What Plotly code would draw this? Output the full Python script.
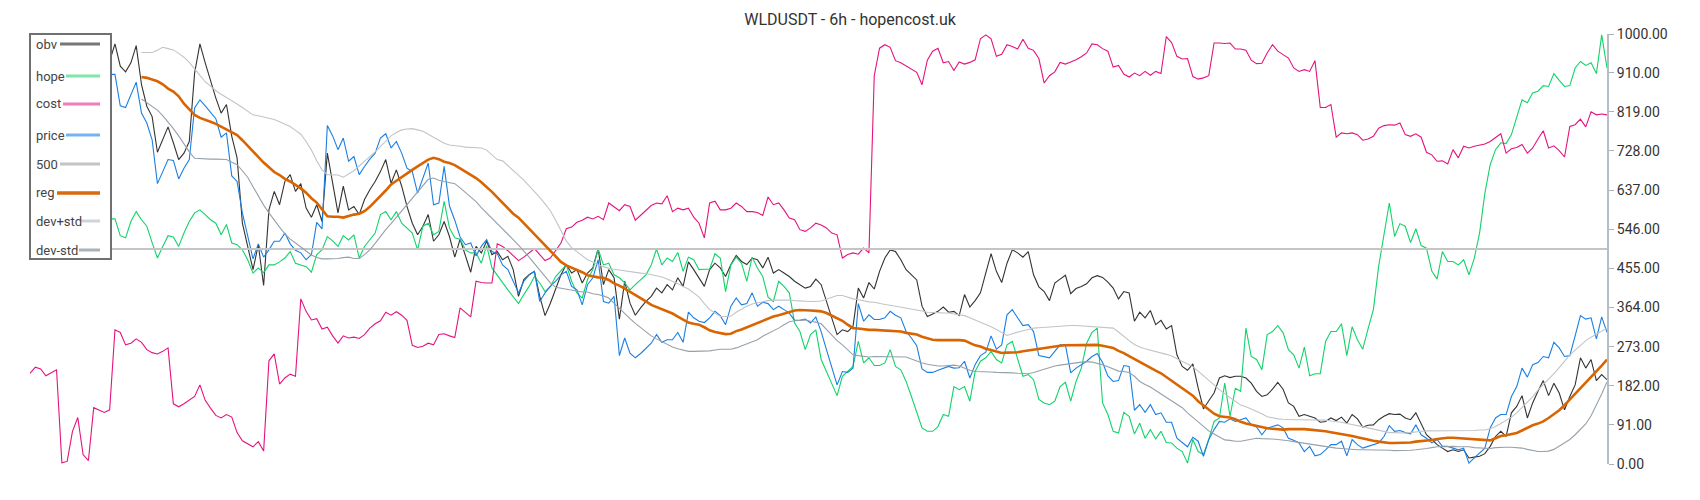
import plotly.graph_objects as go

title = "WLDUSDT - 6h - hopencost.uk"
level = 500
tick_vals = [0, 91, 182, 273, 364, 455, 546, 637, 728, 819, 910, 1000]
tick_text = [f"{v:.2f}" for v in tick_vals]
warmup = 21  # reg / bands start after the rolling window

obv = [960, 940, 975, 930, 905, 950, 985, 920, 890, 940, 910, 960, 925, 900, 950,
       937, 977, 925, 912, 933, 973, 882, 832, 808, 725,
       754, 784, 747, 708, 723, 750, 909, 977, 933, 890,
       851, 816, 836, 762, 712, 560, 506, 452, 510, 415,
       591, 634, 603, 657, 673, 634, 652, 595, 574, 603,
       564, 723, 653, 584, 646, 591, 599, 580, 615, 638,
       657, 680, 708, 653, 684, 646, 599, 560,
       533, 553, 580, 518, 533, 564, 529, 481, 523, 483,
       446, 506, 491, 518, 487, 494, 475, 483, 452, 390,
       429, 440, 448, 390, 345, 374, 405, 440, 464, 444,
       452, 421, 444, 456, 501, 417, 452, 433, 337, 425,
       374, 346, 363, 378, 390, 409, 398, 417, 405, 433,
       413, 470, 452, 433, 413, 452, 467, 456, 436, 464,
       485, 471, 464, 479, 475, 456, 481, 444, 452, 444,
       436, 425, 417, 409, 413, 430, 417, 378, 336, 301,
       312, 308, 320, 409,
       386, 422, 407, 448, 479, 498, 494, 475, 452, 440,
       428, 367, 343, 349, 355, 365, 353, 355, 345, 394,
       365, 380, 398, 444, 489, 448, 422, 467, 498, 491,
       481, 494, 440, 412, 401, 380, 421, 430, 439, 396,
       408, 413, 419, 433, 438, 434, 423, 409, 384, 401,
       398, 332, 353, 340, 357, 324, 334, 314, 322, 254,
       227, 218, 233, 177, 128, 147, 165, 200, 205, 201,
       204, 204, 200, 188, 169, 157, 161, 174, 190, 174,
       142, 134, 111, 115, 111, 107, 97, 99, 107, 101,
       109, 95, 115, 105, 86, 90, 91, 103, 111, 117,
       115, 116, 107, 103, 119, 95, 68, 57, 45, 37,
       29, 33, 29, 33, 14, 16, 18, 24, 41, 64,
       76, 64, 119, 134, 159, 107, 142, 169, 194, 159,
       188, 165, 126, 157, 184, 247, 223, 243, 194, 208, 196]

hope = [585, 570, 600, 590, 560, 575, 610, 595, 565, 580, 600, 575, 555, 590, 570,
        570, 570, 531, 526, 564, 587, 568, 553, 515, 479,
        506, 531, 528, 506, 537, 564, 584, 591, 580, 568,
        560, 533, 557, 514, 510, 498, 475, 444, 456, 445,
        463, 463, 470, 479, 494, 467, 463, 459, 446, 487,
        498, 529, 519, 506, 531, 521, 533, 479, 506, 521,
        537, 580, 587, 568, 587, 560, 549, 537, 498, 553,
        560, 533, 541, 611, 549, 526, 523, 498, 491, 491,
        467, 508, 456, 438, 422, 405, 389, 373, 394, 413,
        436, 421, 401, 413, 436, 450, 463, 425, 398, 386,
        429, 452, 500, 463, 467, 440, 433, 421, 405, 417,
        429, 440, 463, 500, 463, 479, 471, 492, 448, 481,
        475, 452, 453, 453, 489, 479, 401, 463, 481, 467,
        425, 481, 456, 436, 388, 378, 425, 413, 398, 328,
        308, 266, 301, 312, 243, 215, 188, 159, 204, 215, 227, 285,
        235, 247, 229, 229, 235, 266, 227, 219, 192, 157,
        119, 84, 76, 76, 87, 115, 111, 180, 173, 180,
        146, 215, 239, 247, 262, 243, 235, 277, 285, 243,
        204, 208, 196, 150, 142, 138, 146, 180, 190, 146,
        192, 223, 281, 306, 316, 142, 115, 76, 72, 120,
        111, 70, 95, 60, 80, 58, 76, 50, 49, 37,
        29, 2, 57, 29, 22, 57, 99, 107, 188, 111,
        176, 169, 316, 250, 243, 219, 301, 308, 322, 305,
        266, 254, 223, 272, 205, 210, 210, 285, 308, 308,
        326, 252, 319, 289, 267, 314, 359, 460, 529, 607,
        529, 559, 553, 515, 547, 508, 502, 449, 430, 494,
        471, 471, 463, 475, 440, 478, 537, 630, 696, 731,
        747, 745, 766, 805, 847, 840, 863, 867, 880, 878,
        908, 892, 878, 880, 921, 936, 927, 933, 908, 998, 921]

cost = [211, 225, 221, 205, 212, 219, 3, 6, 76, 108,
        22, 8, 131, 125, 120, 126, 312, 306, 277, 281,
        291, 283, 266, 259, 256, 262, 270, 140, 133, 140,
        148, 157, 184, 148, 130, 113, 107, 115, 109, 73,
        54, 47, 40, 52, 30, 240, 256, 186, 200, 209,
        204, 384, 355, 335, 338, 314, 318, 298, 281, 298,
        293, 295, 292, 301, 316, 326, 333, 353, 346, 354,
        346, 334, 276, 271, 274, 281, 277, 301, 303, 298,
        294, 363, 353, 342, 425, 422, 421, 421, 512, 506,
        496, 484, 473, 481, 491, 501, 487, 473, 479, 497,
        514, 547, 551, 562, 567, 574, 570, 576, 568, 607,
        598, 589, 603, 599, 567, 578, 591, 601, 607, 605,
        624, 587, 595, 591, 595, 574, 560, 526, 607, 611,
        591, 591, 595, 607, 599, 587, 587, 585, 578, 621,
        603, 607, 591, 572, 568, 545, 541, 549, 560, 556,
        549, 537, 533, 479, 487, 491, 488, 502, 491,
        903, 967, 975, 969, 938, 933, 926, 919, 911, 882,
        939, 960, 967, 933, 936, 915, 935, 930, 934, 940,
        989, 998, 989, 948, 953, 975, 971, 965, 988, 967,
        962, 943, 886, 903, 912, 934, 930, 935, 940, 947,
        956, 977, 975, 966, 960, 923, 927, 907, 900, 909,
        903, 913, 904, 913, 908, 994, 980, 948, 942, 943,
        901, 895, 898, 903, 979, 979, 978, 979, 965, 965,
        962, 939, 931, 932, 956, 975, 960, 952, 944, 921,
        913, 917, 913, 938, 829, 829, 836, 760, 770, 768,
        770, 766, 753, 756, 762, 781, 787, 789, 788, 793,
        766, 762, 768, 760, 725, 719, 704, 705, 698, 731,
        712, 739, 735, 739, 741, 744, 750, 758, 768, 723,
        733, 736, 743, 723, 735, 756, 775, 735, 740, 729,
        714, 785, 789, 802, 784, 819, 812, 814, 812]

price = [900, 880, 910, 870, 850, 895, 920, 860, 830, 870, 850, 890, 860, 845, 880,
         906, 906, 833, 829, 859, 888, 816, 793, 754, 652,
         680, 708, 706, 663, 688, 708, 828, 847, 833, 818,
         803, 760, 770, 670, 657, 584, 529, 477, 512, 481,
         498, 518, 518, 537, 512, 497, 491, 475, 487, 562,
         547, 787, 763, 731, 758, 704, 715, 673, 692, 709,
         723, 758, 768, 735, 750, 723, 688, 680, 630, 663,
         700, 603, 607, 692, 600, 567, 528, 510, 514, 484,
         506, 522, 494, 489, 463, 452, 424, 398, 425, 440,
         448, 378, 398, 413, 425, 440, 448, 413, 405, 370,
         417, 433, 475, 378, 374, 390, 252, 293, 258, 247,
         257, 270, 281, 301, 283, 289, 289, 306, 283, 353,
         340, 332, 329, 340, 355, 345, 324, 367, 386, 370,
         373, 398, 367, 376, 373, 359, 367, 359, 351, 334,
         334, 337, 328, 342, 308, 266, 227, 184,
         215, 213, 223, 373, 332, 347, 336, 336, 340, 355,
         346, 340, 308, 293, 275, 221, 213, 213, 218, 223,
         227, 223, 224, 239, 200, 231, 252, 260, 298, 267,
         277, 347, 359, 340, 322, 324, 308, 252, 249, 247,
         262, 277, 277, 212, 223, 231, 239, 250, 257, 236,
         205, 192, 194, 229, 227, 125, 138, 120, 138, 115,
         119, 97, 97, 60, 49, 40, 62, 53, 18, 57,
         80, 99, 97, 105, 99, 103, 107, 91, 86, 68,
         84, 87, 91, 84,
         60, 55, 49, 29, 41, 19, 22, 33, 45, 45,
         53, 19, 57, 45, 37, 41, 45, 49, 64, 89,
         76, 78, 73, 70, 91, 68, 60, 49, 57, 41,
         41, 37, 33, 37, 2, 14, 26, 37, 84, 107,
         115, 115, 157, 180, 223, 202, 231, 236, 250, 247,
         283, 270, 250, 252, 298, 345, 337, 340, 291, 342, 306]

reg = [None] * warmup + [
    900, 898, 894, 890, 883, 873, 866, 855, 838, 824,
    812, 805, 801, 796, 791, 784, 777, 772, 765, 753,
    740, 726, 712, 701, 690, 679, 672, 663, 657, 650,
    641, 631, 618, 608, 591, 576, 575, 575, 573, 577,
    580, 582, 588, 598, 610, 623, 636, 650, 659, 668,
    676, 684, 692, 701, 708, 712, 709, 703, 700, 695,
    688, 681, 673, 665, 655, 645, 633, 620, 607, 595,
    582, 573, 560, 547, 534, 522, 509, 495, 482, 470,
    462, 457, 452, 446, 439, 436, 434, 433, 428, 420,
    415, 408, 401, 393, 386, 378, 370, 365, 360, 355,
    350, 343, 336, 329, 326, 324, 318, 311, 307, 305,
    302, 303, 309, 313, 318, 323, 329, 334, 339, 343,
    346, 350, 353, 357, 358, 358, 357, 356, 355, 351,
    345, 340, 333, 324, 316, 315, 313, 312, 312, 311,
    310, 310, 309, 308, 305, 303, 301, 296, 293, 289,
    288, 288, 289, 289, 288, 287, 282, 276, 273, 268,
    265, 261, 258, 259, 259, 260, 262, 264, 266, 267,
    269, 271, 273, 275, 276, 276, 277, 277, 277, 277,
    277, 275, 272, 270, 263, 258, 251, 244, 236, 229,
    224, 217, 211, 202, 193, 184, 176, 168, 159, 146,
    136, 125, 117, 111, 110, 108, 104, 98, 94, 91,
    89, 86, 83, 82, 81, 80, 81, 81, 82, 81,
    80, 79, 78, 76, 74, 72, 69, 67, 65, 62,
    59, 56, 54, 52, 50, 49, 49, 49, 49, 50,
    52, 53, 55, 56, 58, 60, 61, 61, 60, 59,
    58, 58, 57, 56, 55, 60, 65, 67, 70, 72,
    78, 84, 90, 94, 99, 107, 116, 125, 137, 150,
    162, 175, 188, 202, 216, 229, 243]

dev_plus = [None] * warmup + [
    957, 957, 957, 962, 969, 966, 963, 955, 946, 934,
    920, 904, 889, 878, 868, 860, 853, 845, 837, 829,
    820, 812, 810, 807, 805, 801, 796, 790, 785, 776,
    767, 750, 730, 705, 684, 673, 673, 672, 667, 675,
    682, 693, 703, 715, 726, 739, 752, 763, 771, 777,
    779, 780, 777, 774, 767, 760, 752, 746, 742, 741,
    739, 737, 736, 736, 735, 730, 720, 708, 705, 694,
    682, 672, 660, 647, 634, 620, 605, 589, 567, 541,
    519, 503, 493, 483, 475, 470, 463, 459, 455, 453,
    451, 449, 447, 445, 444, 443, 440, 438, 435, 430,
    425, 419, 413, 407, 398, 388, 373, 359, 351, 343,
    343, 344, 353, 361, 367, 372, 375, 377, 380, 381,
    381, 382, 381, 380, 379, 378, 378, 378, 379, 383,
    388, 392, 392, 388, 384, 382, 379, 377, 376, 373,
    371, 369, 367, 365, 363, 360, 358, 356, 353, 353,
    352, 351, 351, 349, 347, 345, 340, 335, 330, 325,
    319, 313, 305, 299, 303, 307, 310, 313, 316, 317,
    318, 319, 320, 321, 321, 322, 322, 321, 321, 320,
    319, 318, 317, 316, 307, 296, 287, 278, 272, 268,
    265, 262, 259, 255, 251, 245, 239, 233, 226, 216,
    206, 196, 184, 173, 163, 154, 146, 137, 133, 128,
    123, 117, 110, 107, 105, 104, 103, 103, 103, 103,
    103, 103, 103, 102, 100, 99, 97, 94, 92, 89,
    87, 84, 81, 78, 75, 73, 73, 72, 72, 73,
    75, 76, 77, 77, 78, 78, 78, 78, 78, 78,
    78, 78, 79, 79, 82, 87, 94, 101, 109, 119,
    131, 144, 156, 172, 184, 197, 210, 224, 239, 254,
    265, 276, 287, 295, 302, 309, 316]

dev_minus = [None] * warmup + [
    849, 840, 832, 823, 810, 796, 780, 763, 744, 726,
    711, 710, 709, 709, 709, 708, 708, 702, 696, 682,
    667, 645, 623, 602, 584, 566, 551, 535, 523, 514,
    505, 495, 486, 480, 477, 477, 477, 478, 480, 481,
    478, 478, 487, 498, 513, 530, 545, 559, 574, 589,
    604, 618, 633, 648, 662, 665, 660, 657, 655, 652,
    642, 632, 622, 610, 596, 584, 572, 559, 546, 534,
    522, 509, 496, 481, 466, 451, 436, 421, 411, 409,
    406, 404, 402, 400, 400, 396, 394, 391, 386, 374,
    361, 348, 338, 327, 317, 306, 298, 291, 284, 277,
    272, 268, 265, 262, 262, 262, 262, 263, 265, 267,
    267, 267, 270, 275, 280, 284, 289, 297, 303, 309,
    316, 324, 331, 333, 334, 335, 332, 330, 326, 313,
    300, 287, 277, 266, 254, 252, 250, 249, 250, 250,
    250, 250, 250, 249, 249, 244, 239, 235, 232, 230,
    228, 228, 229, 230, 228, 223, 218, 215, 215, 214,
    214, 213, 213, 213, 212, 211, 210, 210, 213, 217,
    221, 224, 228, 230, 232, 234, 236, 237, 238, 237,
    234, 231, 226, 221, 216, 215, 213, 204, 192, 185,
    179, 171, 163, 156, 148, 140, 131, 119, 109, 98,
    87, 77, 70, 62, 56, 55, 53, 53, 55, 58,
    60, 59, 59, 58, 57, 56, 54, 52, 50, 48,
    46, 45, 43, 41, 39, 37, 36, 35, 33, 33,
    33, 33, 33, 33, 32, 32, 31, 31, 31, 32,
    33, 34, 36, 38, 40, 40, 41, 41, 40, 40,
    40, 38, 37, 36, 36, 38, 39, 39, 39, 38,
    37, 34, 32, 29, 29, 30, 34, 41, 48, 57,
    68, 80, 93, 112, 136, 163, 191]

n = len(obv)
for name, s in [("hope", hope), ("cost", cost), ("price", price),
                ("reg", reg), ("dev_plus", dev_plus), ("dev_minus", dev_minus)]:
    if len(s) != n:
        raise ValueError(f"{name} has {len(s)} points, expected {n}")
steps = list(range(n))

W, H = 1700, 500
L, R, T, B = 30, 93, 34, 36
pw, ph = W - L - R, H - T - B


def px(x):
    return (x - L) / pw


def py(y):
    return (H - B - y) / ph


# name, series, plot colour, plot width, legend colour, legend row y, sample start
series = [
    ("obv", obv, "#333333", 1.1, "#777777", 44, 60),
    ("hope", hope, "#12d36a", 1.1, "#7ee6aa", 76, 66),
    ("cost", cost, "#e5137d", 1.1, "#f07cbb", 104, 63),
    ("price", price, "#1a7fe3", 1.1, "#72b3f0", 135, 66),
    ("500", [level, level], "#c4c4c4", 2, "#c4c4c4", 164, 60),
    ("reg", reg, "#d96400", 2.6, "#d86a10", 193, 57),
    ("dev+std", dev_plus, "#bfc5ca", 1.1, "#cfd4d8", 221, 81),
    ("dev-std", dev_minus, "#96a1aa", 1.1, "#a9b2b9", 250, 79),
]

fig = go.Figure()
shapes = [dict(type="rect", xref="paper", yref="paper", layer="above",
               x0=px(30), x1=px(111), y0=py(259), y1=py(34),
               line=dict(color="#707070", width=2), fillcolor="white")]
annotations = []
for name, s, color, width, lcolor, ly, lx in series:
    xs = [0, n - 1] if name == "500" else steps
    fig.add_trace(go.Scatter(x=xs, y=s, mode="lines", name=name,
                             line=dict(color=color, width=width),
                             hoverinfo="skip", showlegend=False))
    shapes.append(dict(type="line", xref="paper", yref="paper", layer="above",
                       x0=px(lx), x1=px(100), y0=py(ly), y1=py(ly),
                       line=dict(color=lcolor, width=3 if name != "reg" else 3.5)))
    annotations.append(dict(text=name, xref="paper", yref="paper",
                            x=px(34), y=py(ly), xanchor="left", yanchor="middle",
                            showarrow=False,
                            font=dict(family="Roboto", size=13, color="#444444")))

fig.update_layout(
    width=W, height=H,
    margin=dict(l=L, r=R, t=T, b=B),
    paper_bgcolor="white",
    plot_bgcolor="white",
    font=dict(family="Roboto", color="#333333"),
    title=dict(text=title, x=0.5, xref="container", y=1 - 19 / H,
               yref="container", xanchor="center", yanchor="middle",
               font=dict(family="Roboto", size=16, color="#333333")),
    xaxis=dict(visible=False, range=[0, n - 1]),
    yaxis=dict(side="right", range=[0, 1000], tickvals=tick_vals,
               ticktext=tick_text, ticks="outside", ticklen=5,
               tickcolor="#aab3ba", showline=True, linecolor="#b6bec5",
               linewidth=2, showgrid=False, zeroline=False,
               tickfont=dict(family="Roboto", size=14, color="#333333")),
    shapes=shapes,
    annotations=annotations,
)

fig.write_html("out.html", config={"displayModeBar": False},
               post_script="document.body.style.margin='0';")
